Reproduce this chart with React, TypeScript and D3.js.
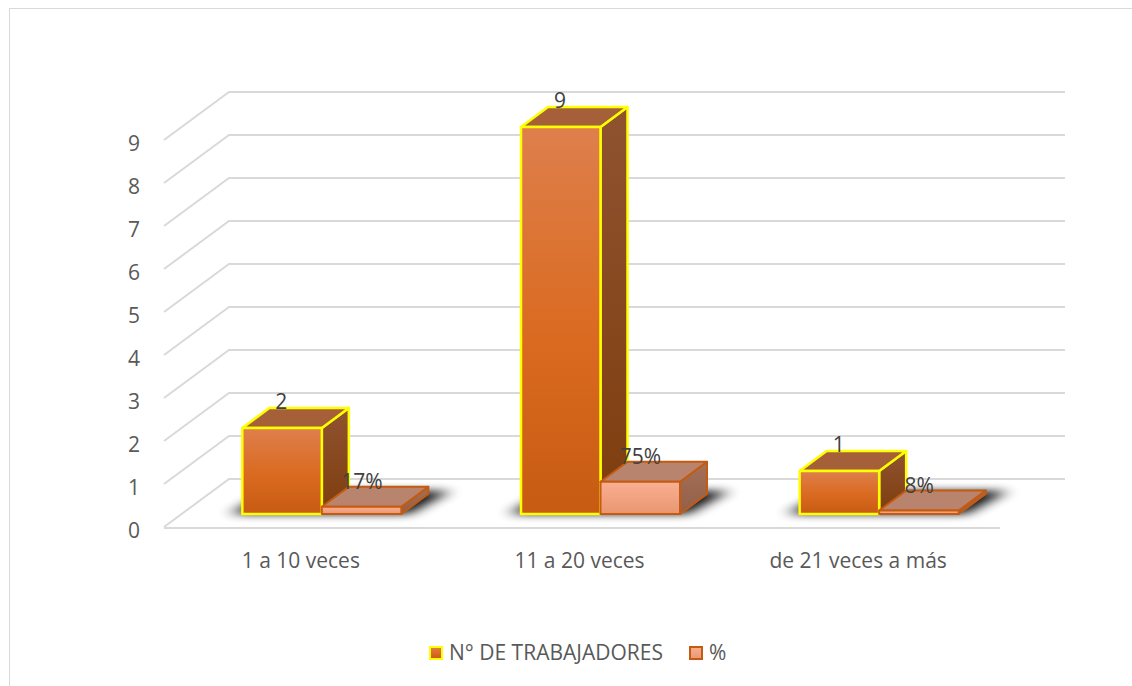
import React from "react";
import * as d3 from "d3";

const categories = ["1 a 10 veces", "11 a 20 veces", "de 21 veces a más"];
const workers = [2, 9, 1];
const percents = [0.17, 0.75, 0.08];
const percentLabels = ["17%", "75%", "8%"];
const axisTicks = [0, 1, 2, 3, 4, 5, 6, 7, 8, 9];
const seriesNames = ["N° DE TRABAJADORES", "%"];

const W = 1132, H = 686;
const FONT = "'Open Sans', sans-serif";
// front wall plane of the axis
const y = d3.scaleLinear().domain([0, 9]).range([527, 140]);
const x = d3.scaleBand().domain(categories).range([164, 1000]);
const depthX = 65, depthY = 48;
const barW = 79.5, barDX = 27, barDY = 20, barBase = 514;
const unit = y(0) - y(1);

function Box({ x0, v, front, side, top, stroke, sw }: any) {
  const yt = barBase - v * unit;
  const x1 = x0 + barW;
  return (
    <g stroke={stroke} strokeWidth={sw} strokeLinejoin="round">
      <path d={`M${x1},${yt}L${x1 + barDX},${yt - barDY}V${barBase - barDY}L${x1},${barBase}Z`} fill={side} />
      <path d={`M${x0},${yt}L${x0 + barDX},${yt - barDY}H${x1 + barDX}L${x1},${yt}Z`} fill={top} />
      <rect x={x0} y={yt} width={barW} height={barBase - yt} fill={front} />
    </g>
  );
}

export default function App() {
  const starts = categories.map((c) => (x(c) as number) + x.bandwidth() / 2 - 61);
  const legendY = 653;
  return (
    <svg width={W} height={H} style={{ position: "absolute", left: 0, top: 0, background: "#fff" }}>
      <defs>
        <linearGradient id="f1" x1="0" y1="0" x2="0" y2="1">
          <stop offset="0" stopColor="#DE7F4C" />
          <stop offset="0.55" stopColor="#DA6A20" />
          <stop offset="1" stopColor="#C75B12" />
        </linearGradient>
        <linearGradient id="s1" x1="0" y1="0" x2="0" y2="1">
          <stop offset="0" stopColor="#8F5330" />
          <stop offset="1" stopColor="#7E3D0D" />
        </linearGradient>
        <linearGradient id="f2" x1="0" y1="0" x2="0" y2="1">
          <stop offset="0" stopColor="#F9AF92" />
          <stop offset="1" stopColor="#EA9670" />
        </linearGradient>
        <linearGradient id="s2" x1="0" y1="0" x2="0" y2="1">
          <stop offset="0" stopColor="#A47058" />
          <stop offset="1" stopColor="#935F48" />
        </linearGradient>
        <filter id="blur" x="-20%" y="-80%" width="140%" height="260%">
          <feGaussianBlur stdDeviation="8 4" />
        </filter>
      </defs>

      <path d={`M9.5,${H}V8.5H${W}`} fill="none" stroke="#D9D9D9" strokeWidth={1} />

      <g fill="none" stroke="#D9D9D9" strokeWidth={2}>
        {axisTicks.map((t) => (
          <path key={t} d={`M${x.range()[0]},${y(t)}L${x.range()[0] + depthX},${y(t) - depthY}H${x.range()[1] + depthX}`} />
        ))}
        <path d={`M${x.range()[0]},${y(0) + 1}H${x.range()[1]}`} />
      </g>

      <g fontFamily={FONT} fontSize={21} fill="#595959" textAnchor="middle">
        {axisTicks.map((t) => (
          <text key={t} x={134} y={y(t) + 11}>{t}</text>
        ))}
      </g>
      <g fontFamily={FONT} fontSize={21} fill="#595959" textAnchor="middle">
        {categories.map((c) => (
          <text key={c} x={(x(c) as number) + x.bandwidth() / 2 - 2.5} y={568}>{c}</text>
        ))}
      </g>

      {starts.map((s, i) => (
        <path
          key={"sh" + i}
          d={`M${s - 12},${barBase}L${s + barDX},${barBase - barDY - 3}H${s + 2 * barW + barDX + 22}L${s + 2 * barW + 8},${barBase}Z`}
          fill="#000"
          opacity={0.95}
          filter="url(#blur)"
        />
      ))}

      {starts.map((s, i) => (
        <Box key={"a" + i} x0={s} v={workers[i]} front="url(#f1)" side="url(#s1)" top="#A5603A" stroke="#FFFF00" sw={2.5} />
      ))}
      {starts.map((s, i) => (
        <Box key={"b" + i} x0={s + barW} v={percents[i]} front="url(#f2)" side="url(#s2)" top="#B9846D" stroke="#C55A11" sw={2} />
      ))}

      <g fontFamily={FONT} fontSize={21} fill="#404040" textAnchor="middle">
        {starts.map((s, i) => (
          <g key={i}>
            <text x={s + 39} y={barBase - workers[i] * unit - barDY + 1}>{workers[i]}</text>
            <text x={s + barW + 40} y={barBase - percents[i] * unit - barDY + 2}>{percentLabels[i]}</text>
          </g>
        ))}
      </g>

      <g fontFamily={FONT} fontSize={21} fill="#595959">
        <rect x={430} y={legendY - 6} width={12} height={12} fill="url(#f1)" stroke="#FFFF00" strokeWidth={2} />
        <text x={449} y={legendY + 7}>{seriesNames[0]}</text>
        <rect x={690} y={legendY - 6} width={12} height={12} fill="url(#f2)" stroke="#C55A11" strokeWidth={2} />
        <text x={709} y={legendY + 7}>{seriesNames[1]}</text>
      </g>
    </svg>
  );
}
